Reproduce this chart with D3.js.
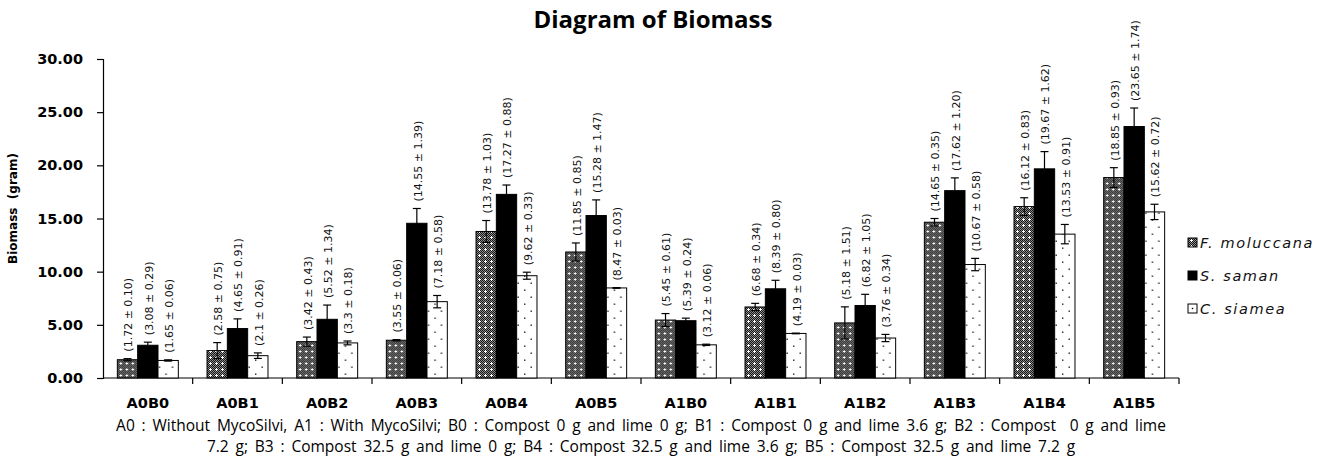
<!DOCTYPE html>
<html>
<head>
<meta charset="utf-8">
<script src="https://cdn.jsdelivr.net/npm/d3@7"></script>
<style>
  html, body { margin: 0; padding: 0; background: #fff; }
  svg { display: block; }
</style>
</head>
<body>
<svg id="chart" width="1318" height="457"></svg>
<script>
// ---- data ----
const categories = ["A0B0","A0B1","A0B2","A0B3","A0B4","A0B5","A1B0","A1B1","A1B2","A1B3","A1B4","A1B5"];
const seriesNames = ["F. moluccana","S. saman","C. siamea"];
const fMoluccana = [1.72, 2.58, 3.42, 3.55, 13.78, 11.85, 5.45, 6.68, 5.18, 14.65, 16.12, 18.85];
const fMoluccanaErr = [0.10, 0.75, 0.43, 0.06, 1.03, 0.85, 0.61, 0.34, 1.51, 0.35, 0.83, 0.93];
const sSaman = [3.08, 4.65, 5.52, 14.55, 17.27, 15.28, 5.39, 8.39, 6.82, 17.62, 19.67, 23.65];
const sSamanErr = [0.29, 0.91, 1.34, 1.39, 0.88, 1.47, 0.24, 0.80, 1.05, 1.20, 1.62, 1.74];
const cSiamea = [1.65, 2.1, 3.3, 7.18, 9.62, 8.47, 3.12, 4.19, 3.76, 10.67, 13.53, 15.62];
const cSiameaErr = [0.06, 0.26, 0.18, 0.58, 0.33, 0.03, 0.06, 0.03, 0.34, 0.58, 0.91, 0.72];
const yTicks = [0, 5, 10, 15, 20, 25, 30];
const titleText = "Diagram of Biomass";
const yLabel = "Biomass  (gram)";
const footLines = [
  "A0 : Without MycoSilvi, A1 : With MycoSilvi; B0 : Compost 0 g and lime 0 g; B1 : Compost 0 g and lime 3.6 g; B2 : Compost  0 g and lime",
  "7.2 g; B3 : Compost 32.5 g and lime 0 g; B4 : Compost 32.5 g and lime 3.6 g; B5 : Compost 32.5 g and lime 7.2 g"
];

const seriesVals = [fMoluccana, sSaman, cSiamea];
const seriesErrs = [fMoluccanaErr, sSamanErr, cSiameaErr];

// ---- layout ----
const svg = d3.select("#chart");
const pLeft = 103, pRight = 1179, pTop = 59, pBottom = 378;

const y = d3.scaleLinear().domain([0, 30]).range([pBottom, pTop]);
const x0 = d3.scaleBand().domain(categories).range([pLeft, pRight]).paddingInner(0.32).paddingOuter(0.16);
const x1 = d3.scaleBand().domain(seriesNames).range([0, x0.bandwidth()]).padding(0);

// ---- patterns ----
const defs = svg.append("defs");
const pF = defs.append("pattern").attr("id", "patF").attr("patternUnits", "userSpaceOnUse")
  .attr("width", 6).attr("height", 6);
pF.append("rect").attr("width", 6).attr("height", 6).attr("fill", "#8e8e8e");
for (let i = 0; i < 6; i++) for (let j = 0; j < 6; j++) {
  if ((i + j) % 2 === 0) pF.append("rect").attr("x", i).attr("y", j).attr("width", 1).attr("height", 1).attr("fill", "#151515");
}
pF.append("rect").attr("x", 2).attr("y", 3).attr("width", 3).attr("height", 1).attr("fill", "#fff");
pF.append("rect").attr("x", 3).attr("y", 2).attr("width", 1).attr("height", 3).attr("fill", "#fff");

const pC = defs.append("pattern").attr("id", "patC").attr("patternUnits", "userSpaceOnUse")
  .attr("width", 13).attr("height", 14);
pC.append("rect").attr("width", 13).attr("height", 14).attr("fill", "#fff");
pC.append("rect").attr("x", 2.5).attr("y", 2.5).attr("width", 1.4).attr("height", 1.4).attr("fill", "#222");
pC.append("rect").attr("x", 9).attr("y", 9.5).attr("width", 1.4).attr("height", 1.4).attr("fill", "#222");

const fills = ["url(#patF)", "#000", "url(#patC)"];

// ---- title ----
svg.append("text").attr("x", 653).attr("y", 28).attr("text-anchor", "middle")
  .style("font-family", "'Open Sans', Lato, sans-serif").style("font-weight", "bold").style("font-size", "24px")
  .text(titleText);

// ---- y axis ----
const yAxis = svg.append("g").attr("transform", `translate(${pLeft},0)`)
  .call(d3.axisLeft(y).tickValues(yTicks).tickFormat(d3.format(".2f")).tickSize(6).tickPadding(14));
yAxis.select(".domain").attr("stroke", "#000").attr("stroke-width", 1.2);
yAxis.selectAll(".tick line").attr("stroke", "#000").attr("stroke-width", 1.2);
yAxis.selectAll(".tick text").attr("fill", "#000")
  .style("font-family", "'DejaVu Sans', sans-serif").style("font-weight", "bold").style("font-size", "14.5px");

svg.append("text").attr("transform", `translate(17,${(pTop + pBottom) / 2 - 10}) rotate(-90)`)
  .attr("text-anchor", "middle")
  .style("font-family", "'DejaVu Sans', sans-serif").style("font-weight", "bold").style("font-size", "12px")
  .style("white-space", "pre")
  .text(yLabel);

// ---- x axis ----
const xAxisG = svg.append("g");
xAxisG.append("line").attr("x1", pLeft).attr("x2", pRight).attr("y1", pBottom).attr("y2", pBottom)
  .attr("stroke", "#000").attr("stroke-width", 1.2);
const boundaries = categories.map(c => x0(c) + x0.bandwidth() / 2 + x0.step() / 2);
xAxisG.selectAll("line.tk").data(boundaries).join("line").attr("class", "tk")
  .attr("x1", d => d).attr("x2", d => d).attr("y1", pBottom).attr("y2", pBottom + 6)
  .attr("stroke", "#000").attr("stroke-width", 1.2);
xAxisG.selectAll("text.cat").data(categories).join("text").attr("class", "cat")
  .attr("x", d => x0(d) + x0.bandwidth() / 2).attr("y", 408).attr("text-anchor", "middle")
  .style("font-family", "'DejaVu Sans', sans-serif").style("font-weight", "bold").style("font-size", "14.5px")
  .text(d => d);

// ---- bars ----
const groups = svg.append("g").selectAll("g").data(categories).join("g")
  .attr("transform", d => `translate(${x0(d)},0)`);

const cells = groups.selectAll("g.cell").data((c, ci) => seriesNames.map((s, si) => ({
  s, si, v: seriesVals[si][ci], e: seriesErrs[si][ci]
}))).join("g").attr("class", "cell");

cells.append("rect")
  .attr("x", d => x1(d.s)).attr("width", x1.bandwidth())
  .attr("y", d => y(d.v)).attr("height", d => y(0) - y(d.v))
  .attr("fill", d => fills[d.si]).attr("stroke", "#000").attr("stroke-width", 1);

// error bars
const capW = 4;
cells.append("line")
  .attr("x1", d => x1(d.s) + x1.bandwidth() / 2).attr("x2", d => x1(d.s) + x1.bandwidth() / 2)
  .attr("y1", d => y(d.v - d.e)).attr("y2", d => y(d.v + d.e))
  .attr("stroke", "#000").attr("stroke-width", 1.2);
cells.append("line")
  .attr("x1", d => x1(d.s) + x1.bandwidth() / 2 - capW).attr("x2", d => x1(d.s) + x1.bandwidth() / 2 + capW)
  .attr("y1", d => y(d.v + d.e)).attr("y2", d => y(d.v + d.e))
  .attr("stroke", "#000").attr("stroke-width", 1.2);
cells.append("line")
  .attr("x1", d => x1(d.s) + x1.bandwidth() / 2 - capW).attr("x2", d => x1(d.s) + x1.bandwidth() / 2 + capW)
  .attr("y1", d => y(d.v - d.e)).attr("y2", d => y(d.v - d.e))
  .attr("stroke", "#000").attr("stroke-width", 1.2);

// value labels
cells.append("text")
  .attr("transform", d => `translate(${x1(d.s) + x1.bandwidth() / 2 + 1},${y(d.v + d.e) - 7}) rotate(-90)`)
  .attr("dy", "0.36em")
  .style("font-family", "'DejaVu Sans', sans-serif").style("font-size", "11px").attr("fill", "#111")
  .text(d => `(${String(d.v)} ± ${d.e.toFixed(2)})`);

// ---- legend ----
const legY = [243, 276, 309];
const leg = svg.append("g").selectAll("g").data(seriesNames).join("g")
  .attr("transform", (d, i) => `translate(1188,${legY[i]})`);
leg.append("rect").attr("x", 0).attr("y", -5).attr("width", 9).attr("height", 9)
  .attr("fill", (d, i) => i === 2 ? "#fff" : fills[i]).attr("stroke", "#000").attr("stroke-width", 1);
leg.filter((d, i) => i === 2).append("rect").attr("x", 3.8).attr("y", -1.2).attr("width", 1.4).attr("height", 1.4).attr("fill", "#000");
leg.append("text").attr("x", 12).attr("y", 0).attr("dy", "0.35em")
  .style("font-family", "'DejaVu Sans', sans-serif").style("font-style", "italic").style("font-size", "14.5px")
  .style("letter-spacing", "1.6px").attr("fill", "#111")
  .text(d => d);

// ---- footnote ----
svg.selectAll("text.foot").data(footLines).join("text").attr("class", "foot")
  .attr("x", 641).attr("y", (d, i) => 431 + i * 21).attr("text-anchor", "middle")
  .style("font-family", "'Open Sans', sans-serif").style("font-size", "15.5px").style("white-space", "pre")
  .style("word-spacing", "2.8px")
  .attr("fill", "#000")
  .text(d => d);
</script>
</body>
</html>
